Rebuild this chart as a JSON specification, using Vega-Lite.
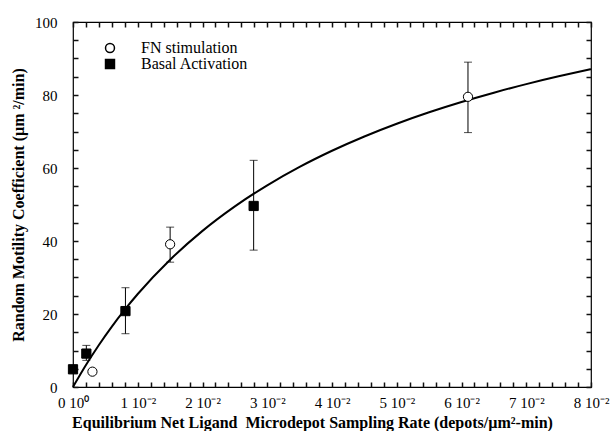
{
  "$schema": "https://vega.github.io/schema/vega-lite/v6.json",
  "width": 518,
  "height": 365,
  "autosize": "none",
  "padding": {"left": 73, "top": 22, "right": 22, "bottom": 44},
  "background": "white",
  "config": {
    "view": {"stroke": "black", "strokeWidth": 1.2},
    "axis": {
      "labelFont": "Liberation Serif",
      "labelFontSize": 15,
      "labelColor": "black",
      "titleFont": "Liberation Serif",
      "titleFontSize": 16,
      "titleFontWeight": "bold",
      "titleColor": "black",
      "grid": false,
      "labelFlush": false,
      "labelOverlap": false,
      "labelBound": false
    },
    "legend": {
      "labelFont": "Liberation Serif",
      "labelFontSize": 16,
      "labelColor": "black"
    }
  },
  "datasets": {
    "pts": [
      {"series": "FN stimulation", "x": 0.003, "y": 4.2, "ylo": 3.6, "yhi": 4.8},
      {"series": "FN stimulation", "x": 0.015, "y": 39.1, "ylo": 34.2, "yhi": 43.8},
      {"series": "FN stimulation", "x": 0.061, "y": 79.5, "ylo": 69.7, "yhi": 89.0},
      {"series": "Basal Activation", "x": 0.0, "y": 4.85, "ylo": 4.85, "yhi": 4.85},
      {"series": "Basal Activation", "x": 0.00206, "y": 9.15, "ylo": 7.3, "yhi": 11.4},
      {"series": "Basal Activation", "x": 0.0081, "y": 20.8, "ylo": 14.6, "yhi": 27.2},
      {"series": "Basal Activation", "x": 0.0279, "y": 49.6, "ylo": 37.5, "yhi": 62.1}
    ],
    "curve": [
      {"x": 0, "y": 0},
      {"x": 0.002, "y": 6.02},
      {"x": 0.004, "y": 11.52},
      {"x": 0.006, "y": 16.56},
      {"x": 0.008, "y": 21.2},
      {"x": 0.01, "y": 25.48},
      {"x": 0.015, "y": 34.88},
      {"x": 0.02, "y": 42.77},
      {"x": 0.025, "y": 49.48},
      {"x": 0.03, "y": 55.26},
      {"x": 0.035, "y": 60.3},
      {"x": 0.04, "y": 64.72},
      {"x": 0.045, "y": 68.64},
      {"x": 0.05, "y": 72.13},
      {"x": 0.055, "y": 75.26},
      {"x": 0.06, "y": 78.08},
      {"x": 0.065, "y": 80.64},
      {"x": 0.07, "y": 82.98},
      {"x": 0.075, "y": 85.11},
      {"x": 0.08, "y": 87.07}
    ]
  },
  "resolve": {"axis": {"x": "independent", "y": "independent"}},
  "layer": [
    {
      "data": {"name": "curve"},
      "mark": {"type": "line", "color": "black", "strokeWidth": 2, "interpolate": "monotone"},
      "encoding": {
        "x": {
          "field": "x", "type": "quantitative",
          "scale": {"domain": [0, 0.08], "nice": false, "zero": false},
          "axis": {
            "orient": "bottom",
            "domain": false,
            "values": [0, 0.002, 0.004, 0.006, 0.008, 0.01, 0.012, 0.014, 0.016, 0.018, 0.02, 0.022, 0.024, 0.026, 0.028, 0.03, 0.032, 0.034, 0.036, 0.038, 0.04, 0.042, 0.044, 0.046, 0.048, 0.05, 0.052, 0.054, 0.056, 0.058, 0.06, 0.062, 0.064, 0.066, 0.068, 0.07, 0.072, 0.074, 0.076, 0.078, 0.08],
            "tickColor": "#111111",
            "tickWidth": 1.5,
            "tickSize": -5,
            "labelPadding": 13,
            "labelExpr": "round(datum.value*500) % 5 != 0 ? '' : (datum.value == 0 ? '0 10⁰' : round(datum.value*100) + ' 10⁻²')",
            "title": "Equilibrium Net Ligand\u00a0 Microdepot Sampling Rate (depots/µm²-min)",
            "titleX": 239,
            "titleY": 40,
            "titleBaseline": "alphabetic",
            "titleAnchor": null,
            "titleAlign": "center"
          }
        },
        "y": {
          "field": "y", "type": "quantitative",
          "scale": {"domain": [0, 100], "nice": false},
          "axis": {
            "orient": "left",
            "domain": false,
            "values": [0, 5, 10, 15, 20, 25, 30, 35, 40, 45, 50, 55, 60, 65, 70, 75, 80, 85, 90, 95, 100],
            "tickColor": "#111111",
            "tickWidth": 1.5,
            "tickSize": -5,
            "labelPadding": 21,
            "labelExpr": "datum.value % 20 == 0 ? datum.label : ''",
            "title": "Random Motility Coefficient (µm ²/min)",
            "titlePadding": 8
          }
        }
      }
    },
    {
      "data": {"name": "pts"},
      "mark": {"type": "rule", "color": "black", "strokeWidth": 1},
      "encoding": {
        "x": {
          "field": "x", "type": "quantitative",
          "axis": {
            "orient": "top",
            "domain": false,
            "values": [0, 0.002, 0.004, 0.006, 0.008, 0.01, 0.012, 0.014, 0.016, 0.018, 0.02, 0.022, 0.024, 0.026, 0.028, 0.03, 0.032, 0.034, 0.036, 0.038, 0.04, 0.042, 0.044, 0.046, 0.048, 0.05, 0.052, 0.054, 0.056, 0.058, 0.06, 0.062, 0.064, 0.066, 0.068, 0.07, 0.072, 0.074, 0.076, 0.078, 0.08],
            "tickColor": "#111111",
            "tickWidth": 1.5,
            "tickSize": -5,
            "labels": false, "title": null
          }
        },
        "y": {
          "field": "ylo", "type": "quantitative",
          "axis": {
            "orient": "right",
            "domain": false,
            "values": [0, 5, 10, 15, 20, 25, 30, 35, 40, 45, 50, 55, 60, 65, 70, 75, 80, 85, 90, 95, 100],
            "tickColor": "#111111",
            "tickWidth": 1.5,
            "tickSize": -5,
            "labels": false, "title": null
          }
        },
        "y2": {"field": "yhi"}
      }
    },
    {
      "data": {"name": "pts"},
      "transform": [{"fold": ["ylo", "yhi"], "as": ["end", "yend"]}],
      "mark": {"type": "tick", "orient": "horizontal", "color": "black", "size": 8, "thickness": 1},
      "encoding": {
        "x": {"field": "x", "type": "quantitative", "axis": null},
        "y": {"field": "yend", "type": "quantitative", "axis": null}
      }
    },
    {
      "data": {"name": "pts"},
      "mark": {"type": "point", "filled": true, "stroke": "black", "strokeWidth": 1, "opacity": 1, "size": 85},
      "encoding": {
        "x": {"field": "x", "type": "quantitative", "axis": null},
        "y": {"field": "y", "type": "quantitative", "axis": null},
        "shape": {
          "field": "series", "type": "nominal",
          "scale": {"domain": ["FN stimulation", "Basal Activation"], "range": ["circle", "square"]},
          "legend": {
            "orient": "none", "legendX": 29, "legendY": 18, "title": null, "padding": 0,
            "labelFont": "Liberation Serif", "labelFontSize": 16, "labelColor": "black",
            "symbolSize": 80, "labelOffset": 23, "rowPadding": 0,
            "encode": {"symbols": {"update": {"stroke": {"value": "black"}, "strokeWidth": {"value": 1}}}}
          }
        },
        "fill": {
          "field": "series", "type": "nominal",
          "scale": {"domain": ["FN stimulation", "Basal Activation"], "range": ["white", "black"]},
          "legend": {
            "orient": "none", "legendX": 29, "legendY": 18, "title": null, "padding": 0,
            "labelFont": "Liberation Serif", "labelFontSize": 16, "labelColor": "black",
            "symbolSize": 80, "labelOffset": 23, "rowPadding": 0,
            "encode": {"symbols": {"update": {"stroke": {"value": "black"}, "strokeWidth": {"value": 1}}}}
          }
        }
      }
    }
  ]
}
